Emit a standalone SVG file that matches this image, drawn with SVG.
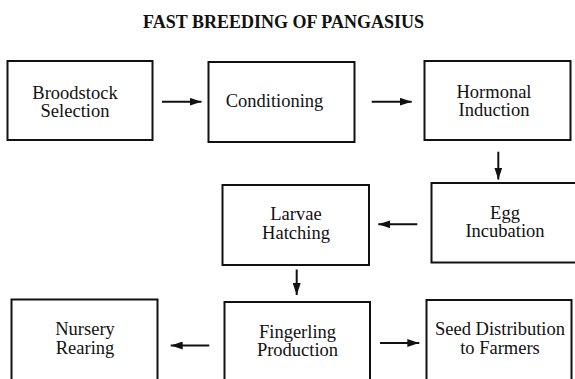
<svg xmlns="http://www.w3.org/2000/svg" width="575" height="379" viewBox="0 0 575 379">
<style>
.box{fill:#fff;stroke:#111;stroke-width:2}
.c{stroke:#111;stroke-width:2;fill:none;marker-end:url(#ah)}
</style>
<defs>
<marker id="ah" viewBox="0 0 12 8" refX="12" refY="4" markerWidth="12" markerHeight="8" markerUnits="userSpaceOnUse" orient="auto">
<path d="M0,0 L12,4 L0,8 Z" fill="#111"/>
</marker>
</defs>
<rect width="575" height="379" fill="#fff"/>
<text x="283.5" y="28" font-family="'Liberation Serif', 'Times New Roman', 'DejaVu Serif', serif" font-size="18" font-weight="bold" fill="#111" text-anchor="middle">FAST BREEDING OF PANGASIUS</text>
<g id="connectors">
<line class="c" x1="162" y1="101.7" x2="201.5" y2="101.7"/>
<line class="c" x1="371.7" y1="101.7" x2="411.7" y2="101.7"/>
<line class="c" x1="498.3" y1="151.7" x2="498.3" y2="179.5"/>
<line class="c" x1="417.3" y1="224.3" x2="378.3" y2="224.3"/>
<line class="c" x1="296.7" y1="269.5" x2="296.7" y2="295"/>
<line class="c" x1="209.3" y1="345.5" x2="170.7" y2="345.5"/>
<line class="c" x1="380" y1="343" x2="419.3" y2="343"/>
</g>
<g font-family="'Liberation Serif', 'Times New Roman', 'DejaVu Serif', serif" font-size="18.5" fill="#111" text-anchor="middle">
<g id="broodstock">
<rect class="box" x="7.5" y="61" width="145" height="79"/>
<text x="75" y="98.5">Broodstock</text>
<text x="75" y="117">Selection</text>
</g>
<g id="conditioning">
<rect class="box" x="208.5" y="62" width="146" height="80"/>
<text x="274.5" y="107.3">Conditioning</text>
</g>
<g id="hormonal">
<rect class="box" x="424.5" y="61" width="146" height="79"/>
<text x="494" y="97.5">Hormonal</text>
<text x="494" y="116">Induction</text>
</g>
<g id="egg">
<rect class="box" x="431.5" y="183" width="146" height="79.5"/>
<text x="505" y="218.5">Egg</text>
<text x="505" y="237">Incubation</text>
</g>
<g id="larvae">
<rect class="box" x="222.5" y="185" width="146.5" height="80"/>
<text x="296" y="220">Larvae</text>
<text x="296" y="239">Hatching</text>
</g>
<g id="nursery">
<rect class="box" x="11.5" y="299.5" width="146" height="100"/>
<text x="85" y="335">Nursery</text>
<text x="85" y="353.5">Rearing</text>
</g>
<g id="fingerling">
<rect class="box" x="224.5" y="302" width="145.5" height="100"/>
<text x="297.5" y="337.5">Fingerling</text>
<text x="297.5" y="356">Production</text>
</g>
<g id="seed">
<rect class="box" x="426.5" y="300" width="145" height="100"/>
<text x="500" y="335">Seed Distribution</text>
<text x="500" y="353.5">to Farmers</text>
</g>
</g>
</svg>
